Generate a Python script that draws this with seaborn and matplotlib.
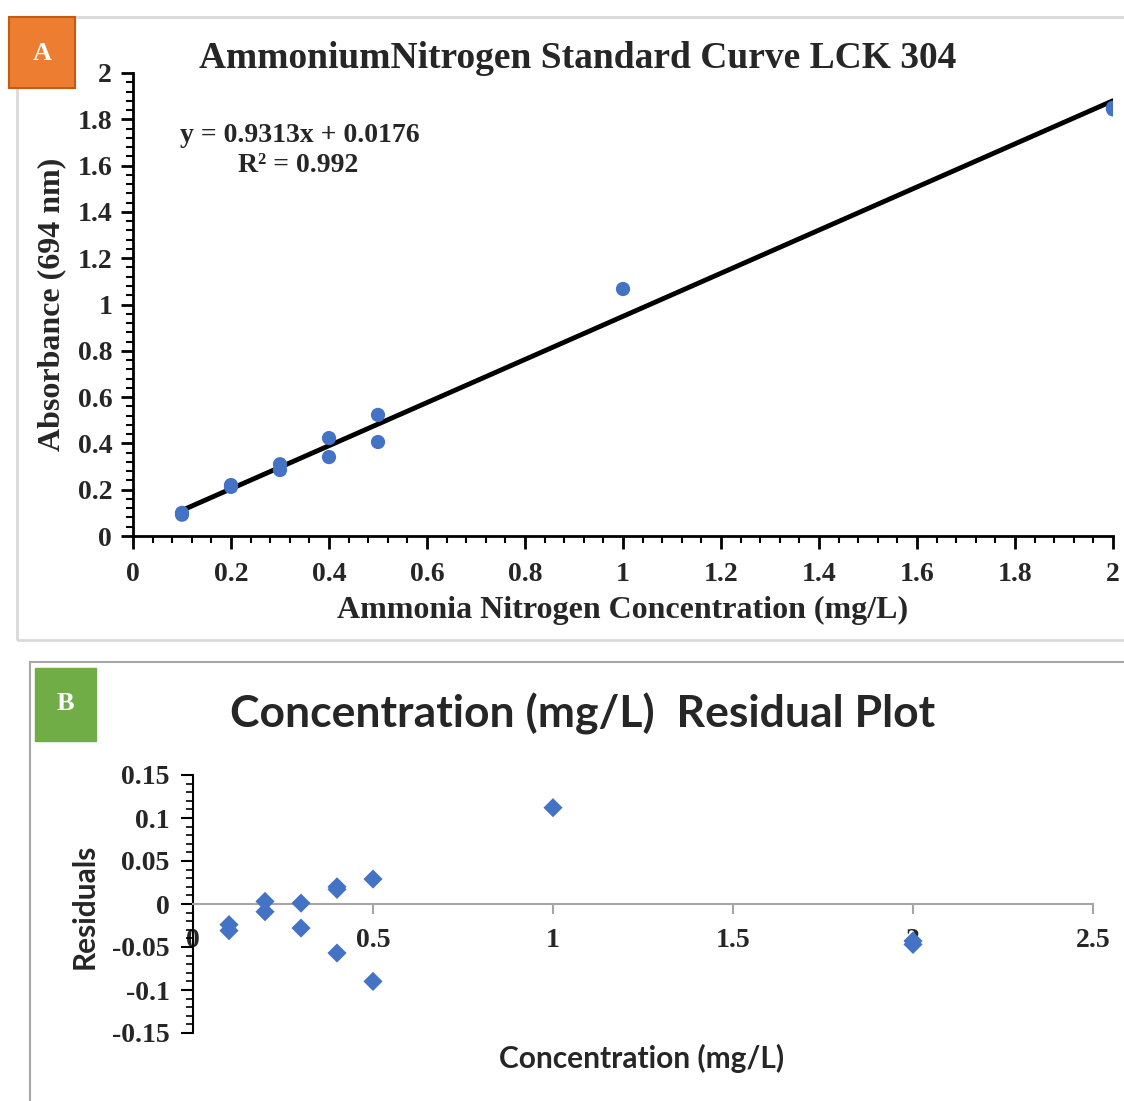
import numpy as np
import matplotlib
matplotlib.use("Agg")
import matplotlib.pyplot as plt
import seaborn as sns
from matplotlib.patches import Rectangle
from matplotlib.ticker import MultipleLocator

# panel A data - standards
conc = [0.1, 0.1, 0.2, 0.2, 0.3, 0.3, 0.4, 0.4, 0.5, 0.5, 1.0, 2.0, 2.0]
absorb = [0.092, 0.100, 0.212, 0.220, 0.310, 0.285, 0.423, 0.341, 0.523, 0.406, 1.067, 1.843, 1.850]
slope = 0.9313
intercept = 0.0176
eq_text = "y = 0.9313x + 0.0176"
r2_text = "R² = 0.992"

# panel B data - residuals
res_x = [0.1, 0.1, 0.2, 0.2, 0.3, 0.3, 0.4, 0.4, 0.4, 0.5, 0.5, 1.0, 2.0, 2.0]
res_y = [-0.024, -0.031, 0.003, -0.009, 0.001, -0.028, 0.017, 0.020, -0.057, 0.029, -0.090, 0.112, -0.043, -0.047]

blue = "#4472C4"
serif = "Liberation Serif"
sans = "Lato"

sns.set_style("white")
plt.rcParams['font.family'] = [serif, 'DejaVu Sans']

W, H = 1124, 1101
fig = plt.figure(figsize=(W / 100, H / 100), dpi=100)

def fx(px):
    return px / W

def fy(py):
    return 1 - py / H

# panel frames
fig.patches.append(Rectangle((fx(17), fy(640)), fx(1130) - fx(17), fy(17) - fy(640),
                             transform=fig.transFigure, fill=False, ec="#d9d9d9", lw=2))
fig.patches.append(Rectangle((fx(30), fy(1110)), fx(1130) - fx(30), fy(662) - fy(1110),
                             transform=fig.transFigure, fill=False, ec="#a6a6a6", lw=1.5))

# ---------------- panel A ----------------
axA = fig.add_axes([fx(133), fy(536), fx(1113) - fx(133), fy(73) - fy(536)])
sns.scatterplot(x=conc, y=absorb, ax=axA, color=blue, s=105, edgecolor="none", zorder=3)
xs = np.array([min(conc), max(conc)])
axA.plot(xs, slope * xs + intercept, color="black", lw=3.5, zorder=2)
axA.set_xlim(0, 2)
axA.set_ylim(0, 2)
axA.xaxis.set_major_locator(MultipleLocator(0.2))
axA.xaxis.set_minor_locator(MultipleLocator(0.04))
axA.yaxis.set_major_locator(MultipleLocator(0.2))
axA.yaxis.set_minor_locator(MultipleLocator(0.04))
axA.xaxis.set_major_formatter(plt.FuncFormatter(lambda v, p: f"{v:g}"))
axA.yaxis.set_major_formatter(plt.FuncFormatter(lambda v, p: f"{v:g}"))
for s in ["top", "right"]:
    axA.spines[s].set_visible(False)
for s in ["left", "bottom"]:
    axA.spines[s].set_color("black")
    axA.spines[s].set_linewidth(2)
axA.tick_params(which="both", bottom=True, left=True)
axA.tick_params(which="major", direction="out", length=9, width=2, color="black",
                labelsize=20, pad=10)
axA.tick_params(which="minor", direction="out", length=5, width=1.5, color="black")
axA.tick_params(axis="y", which="major", pad=6)
for lab in axA.get_xticklabels() + axA.get_yticklabels():
    lab.set_fontweight("bold")
axA.set_xlabel("Ammonia Nitrogen Concentration (mg/L)", fontsize=23, fontweight="bold", labelpad=6)
axA.set_ylabel("Absorbance (694 nm)", fontsize=23, fontweight="bold", labelpad=8)
axA.text(0.096, 1.73, eq_text, fontsize=20, fontweight="bold", ha="left", va="center")
axA.text(0.337, 1.60, r2_text, fontsize=20, fontweight="bold", ha="center", va="center")

fig.text(fx(578), fy(58), "AmmoniumNitrogen Standard Curve LCK 304", fontsize=27,
         fontweight="bold", ha="center", va="center")

# label box A
fig.patches.append(Rectangle((fx(9), fy(88)), fx(75) - fx(9), fy(17) - fy(88),
                             transform=fig.transFigure, fc="#ED7D31", ec="#C55A11", lw=1.5))
fig.text(fx(42), fy(53), "A", color="white", fontsize=19, fontweight="bold",
         ha="center", va="center")

# ---------------- panel B ----------------
axB = fig.add_axes([fx(193), fy(1033), fx(1093) - fx(193), fy(775) - fy(1033)])
sns.scatterplot(x=res_x, y=res_y, ax=axB, color=blue, marker="D", s=95, edgecolor="none", zorder=3)
axB.set_xlim(0, 2.5)
axB.set_ylim(-0.15, 0.15)
axB.xaxis.set_major_locator(MultipleLocator(0.5))
axB.yaxis.set_major_locator(MultipleLocator(0.05))
axB.yaxis.set_minor_locator(MultipleLocator(0.01))
axB.xaxis.set_major_formatter(plt.FuncFormatter(lambda v, p: f"{v:g}"))
axB.yaxis.set_major_formatter(plt.FuncFormatter(lambda v, p: f"{v:g}"))
axB.spines["top"].set_visible(False)
axB.spines["right"].set_visible(False)
axB.spines["bottom"].set_position(("data", 0))
axB.spines["bottom"].set_color("#a6a6a6")
axB.spines["bottom"].set_linewidth(1.5)
axB.spines["left"].set_color("black")
axB.spines["left"].set_linewidth(1.5)
axB.tick_params(which="both", bottom=True, left=True)
axB.tick_params(axis="x", which="major", direction="out", length=7, width=1.5,
                color="#a6a6a6", labelsize=20, pad=10)
axB.tick_params(axis="y", which="major", direction="out", length=9, width=1.5,
                color="black", labelsize=20, pad=8)
axB.tick_params(axis="y", which="minor", direction="out", length=5, width=1.2, color="black")
for lab in axB.get_xticklabels() + axB.get_yticklabels():
    lab.set_fontweight("bold")
    lab.set_family([serif, 'DejaVu Sans'])

fig.text(fx(583), fy(714), "Concentration (mg/L)  Residual Plot", fontsize=32,
         fontweight="bold", family=[sans, 'DejaVu Sans'], ha="center", va="center")
fig.text(fx(642), fy(1058), "Concentration (mg/L)", fontsize=21.5,
         fontweight="bold", family=[sans, 'DejaVu Sans'], ha="center", va="center")
fig.text(fx(85), fy(906), "Residuals", fontsize=21.5, rotation=90,
         fontweight="bold", family=[sans, 'DejaVu Sans'], ha="center", va="center")

fig.patches.append(Rectangle((fx(35), fy(741)), fx(96) - fx(35), fy(668) - fy(741),
                             transform=fig.transFigure, fc="#70AD47", ec="#70AD47", lw=1))
fig.text(fx(65), fy(703), "B", color="white", fontsize=19, fontweight="bold",
         ha="center", va="center")

fig.savefig("out.png", dpi=100)
